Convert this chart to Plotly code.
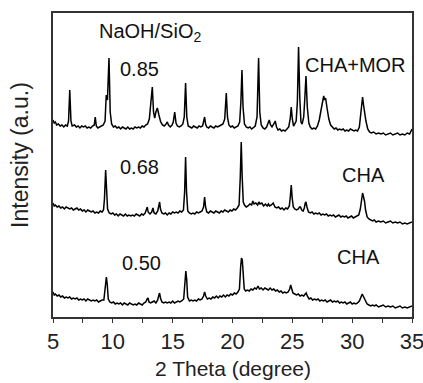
import plotly.graph_objects as go

# ---- data: (2theta [deg], intensity [a.u.]) ----
pattern_085 = [
    (5.0, 197), (5.1, 194), (5.2, 195), (5.3, 192), (5.45, 193), (5.6, 191), (5.75, 192), (5.9, 190), (6.05, 192),
    (6.2, 191), (6.3, 196), (6.4, 227), (6.5, 196), (6.6, 191), (6.8, 192), (6.95, 190), (7.1, 191), (7.25, 189),
    (7.4, 191), (7.55, 190), (7.7, 191), (7.85, 189), (8.0, 190), (8.15, 189), (8.3, 191), (8.45, 192), (8.53, 200),
    (8.62, 191), (8.75, 189), (8.9, 190), (9.05, 191), (9.2, 192), (9.35, 196), (9.45, 222), (9.55, 217), (9.68, 259),
    (9.78, 205), (9.9, 193), (10.05, 190), (10.2, 191), (10.35, 189), (10.5, 190), (10.65, 188), (10.8, 190),
    (10.95, 189), (11.1, 188), (11.25, 190), (11.4, 188), (11.55, 189), (11.7, 188), (11.85, 190), (12.0, 189),
    (12.15, 190), (12.3, 189), (12.45, 191), (12.6, 190), (12.75, 192), (12.9, 193), (13.05, 198), (13.15, 210),
    (13.3, 230), (13.4, 205), (13.5, 199), (13.6, 205), (13.72, 209), (13.85, 202), (14.0, 195), (14.15, 192),
    (14.3, 191), (14.45, 193), (14.55, 195), (14.65, 192), (14.8, 190), (14.95, 192), (15.05, 195), (15.17, 205),
    (15.28, 194), (15.4, 191), (15.55, 190), (15.7, 191), (15.85, 193), (15.97, 200), (16.08, 234), (16.18, 200),
    (16.3, 191), (16.45, 190), (16.6, 189), (16.75, 191), (16.9, 190), (17.05, 189), (17.2, 191), (17.35, 190),
    (17.5, 191), (17.6, 196), (17.67, 200), (17.75, 193), (17.85, 190), (18.0, 189), (18.15, 191), (18.3, 190),
    (18.45, 189), (18.6, 191), (18.75, 190), (18.9, 191), (19.05, 192), (19.2, 193), (19.35, 198), (19.48, 224),
    (19.58, 200), (19.7, 192), (19.85, 190), (20.0, 191), (20.15, 189), (20.3, 190), (20.45, 191), (20.6, 195),
    (20.7, 215), (20.79, 247), (20.88, 210), (21.0, 193), (21.15, 190), (21.3, 189), (21.45, 190), (21.6, 188),
    (21.75, 190), (21.9, 191), (22.05, 200), (22.18, 259), (22.28, 205), (22.4, 192), (22.55, 189), (22.7, 188),
    (22.85, 190), (22.95, 194), (23.07, 197), (23.18, 192), (23.3, 190), (23.45, 193), (23.57, 196), (23.68, 190),
    (23.8, 187), (23.95, 188), (24.1, 186), (24.25, 187), (24.4, 186), (24.55, 188), (24.7, 190), (24.82, 198),
    (24.91, 210), (25.0, 198), (25.1, 191), (25.2, 193), (25.32, 196), (25.42, 215), (25.52, 270), (25.62, 220),
    (25.72, 195), (25.82, 193), (25.95, 200), (26.05, 220), (26.14, 241), (26.25, 210), (26.38, 194), (26.5, 190),
    (26.65, 188), (26.8, 189), (26.95, 188), (27.1, 191), (27.25, 197), (27.4, 207), (27.55, 218), (27.62, 221),
    (27.7, 217), (27.78, 219), (27.9, 209), (28.05, 198), (28.2, 192), (28.35, 190), (28.5, 188), (28.65, 189),
    (28.8, 187), (28.95, 188), (29.1, 187), (29.25, 188), (29.4, 186), (29.55, 187), (29.7, 186), (29.85, 188),
    (30.0, 187), (30.15, 186), (30.3, 187), (30.45, 186), (30.6, 190), (30.7, 200), (30.8, 215), (30.87, 220),
    (30.95, 212), (31.05, 203), (31.15, 196), (31.3, 188), (31.45, 185), (31.6, 184), (31.8, 185), (32.0, 183),
    (32.2, 184), (32.4, 183), (32.6, 184), (32.8, 182), (33.0, 183), (33.2, 184), (33.4, 182), (33.6, 183),
    (33.8, 184), (34.0, 182), (34.2, 183), (34.4, 182), (34.6, 184), (34.8, 183), (34.95, 186), (35.0, 188),
]

pattern_068 = [
    (5.0, 114), (5.1, 111), (5.2, 112), (5.35, 110), (5.5, 111), (5.65, 109), (5.8, 110), (5.95, 108), (6.1, 110),
    (6.25, 109), (6.4, 108), (6.55, 109), (6.7, 107), (6.85, 108), (7.0, 109), (7.15, 107), (7.3, 108), (7.45, 106),
    (7.6, 107), (7.75, 105), (7.9, 107), (8.05, 106), (8.2, 105), (8.35, 106), (8.5, 104), (8.65, 105), (8.8, 104),
    (8.95, 106), (9.1, 105), (9.22, 107), (9.3, 118), (9.4, 147), (9.48, 125), (9.56, 108), (9.7, 104), (9.85, 103),
    (10.0, 104), (10.15, 102), (10.3, 103), (10.45, 101), (10.6, 103), (10.75, 102), (10.9, 101), (11.05, 103),
    (11.2, 101), (11.35, 102), (11.5, 101), (11.65, 102), (11.8, 101), (11.95, 103), (12.1, 102), (12.25, 101),
    (12.4, 103), (12.55, 102), (12.7, 104), (12.82, 108), (12.88, 110), (12.95, 105), (13.1, 103), (13.25, 105),
    (13.35, 109), (13.45, 104), (13.6, 103), (13.75, 106), (13.85, 113), (13.91, 115), (13.98, 108), (14.1, 104),
    (14.25, 103), (14.4, 104), (14.55, 102), (14.7, 104), (14.85, 103), (15.0, 105), (15.15, 104), (15.3, 105),
    (15.45, 104), (15.6, 106), (15.75, 105), (15.9, 107), (16.0, 125), (16.08, 160), (16.16, 125), (16.26, 106),
    (16.4, 104), (16.55, 103), (16.7, 104), (16.85, 103), (17.0, 105), (17.15, 104), (17.3, 105), (17.45, 106),
    (17.58, 110), (17.67, 120), (17.75, 110), (17.85, 105), (18.0, 104), (18.15, 106), (18.3, 105), (18.45, 104),
    (18.6, 106), (18.75, 105), (18.9, 104), (19.05, 106), (19.2, 105), (19.35, 107), (19.5, 106), (19.65, 105),
    (19.8, 107), (19.95, 106), (20.1, 108), (20.25, 107), (20.4, 109), (20.55, 112), (20.65, 140), (20.73, 175),
    (20.81, 140), (20.9, 115), (21.0, 112), (21.15, 110), (21.3, 111), (21.45, 113), (21.6, 112), (21.7, 116),
    (21.8, 113), (21.95, 114), (22.1, 112), (22.2, 115), (22.3, 113), (22.45, 114), (22.6, 111), (22.75, 113),
    (22.9, 111), (23.0, 113), (23.1, 111), (23.25, 112), (23.4, 114), (23.55, 110), (23.7, 109), (23.85, 110),
    (24.0, 108), (24.15, 109), (24.3, 107), (24.45, 109), (24.6, 108), (24.75, 111), (24.83, 120), (24.91, 132),
    (24.98, 120), (25.08, 110), (25.2, 108), (25.35, 107), (25.5, 108), (25.6, 110), (25.68, 110), (25.78, 107),
    (25.9, 106), (26.0, 109), (26.08, 114), (26.14, 115), (26.22, 110), (26.35, 105), (26.5, 104), (26.65, 105),
    (26.8, 103), (26.95, 104), (27.1, 103), (27.25, 104), (27.4, 102), (27.55, 103), (27.7, 102), (27.85, 103),
    (28.0, 101), (28.15, 102), (28.3, 101), (28.45, 102), (28.6, 100), (28.75, 101), (28.9, 102), (29.05, 100),
    (29.2, 101), (29.35, 100), (29.5, 101), (29.65, 99), (29.8, 100), (29.95, 101), (30.1, 99), (30.25, 100),
    (30.4, 101), (30.55, 102), (30.68, 108), (30.78, 118), (30.87, 124), (30.95, 120), (31.03, 116), (31.12, 107),
    (31.25, 100), (31.4, 98), (31.55, 97), (31.7, 96), (31.85, 97), (32.0, 95), (32.2, 96), (32.4, 95), (32.6, 96),
    (32.8, 94), (33.0, 95), (33.2, 96), (33.4, 94), (33.6, 95), (33.8, 94), (34.0, 95), (34.2, 93), (34.4, 94),
    (34.6, 93), (34.8, 94), (35.0, 95),
]

pattern_050 = [
    (5.0, 25), (5.1, 22), (5.2, 23), (5.35, 21), (5.5, 22), (5.65, 20), (5.8, 21), (5.95, 19), (6.1, 20), (6.25, 19),
    (6.4, 20), (6.55, 18), (6.7, 19), (6.85, 18), (7.0, 19), (7.15, 17), (7.3, 18), (7.45, 17), (7.6, 18), (7.75, 16),
    (7.9, 18), (8.05, 17), (8.2, 16), (8.35, 17), (8.5, 16), (8.65, 17), (8.8, 15), (8.95, 16), (9.1, 17), (9.25, 17),
    (9.33, 25), (9.4, 38), (9.46, 40), (9.53, 33), (9.62, 18), (9.75, 15), (9.9, 14), (10.05, 15), (10.2, 13),
    (10.35, 14), (10.5, 13), (10.65, 14), (10.8, 12), (10.95, 14), (11.1, 13), (11.25, 12), (11.4, 14), (11.55, 13),
    (11.7, 12), (11.85, 13), (12.0, 12), (12.15, 14), (12.3, 13), (12.45, 12), (12.6, 14), (12.75, 15), (12.87, 18),
    (12.94, 19), (13.02, 15), (13.15, 14), (13.3, 15), (13.45, 16), (13.6, 14), (13.75, 17), (13.85, 22), (13.91, 24),
    (13.98, 19), (14.1, 15), (14.25, 14), (14.4, 15), (14.55, 14), (14.7, 15), (14.85, 14), (15.0, 16), (15.15, 14),
    (15.3, 15), (15.45, 16), (15.6, 15), (15.75, 16), (15.92, 18), (16.03, 35), (16.1, 46), (16.17, 38), (16.25, 20),
    (16.4, 16), (16.55, 17), (16.7, 16), (16.85, 17), (17.0, 16), (17.15, 18), (17.3, 17), (17.45, 18), (17.58, 21),
    (17.67, 25), (17.76, 21), (17.9, 18), (18.05, 19), (18.2, 18), (18.35, 20), (18.5, 19), (18.65, 21), (18.8, 19),
    (18.95, 21), (19.1, 20), (19.25, 22), (19.4, 20), (19.55, 22), (19.7, 21), (19.85, 23), (20.0, 22), (20.15, 24),
    (20.3, 23), (20.45, 25), (20.58, 28), (20.68, 50), (20.75, 59), (20.82, 57), (20.9, 40), (20.98, 28), (21.1, 26),
    (21.25, 27), (21.4, 26), (21.55, 28), (21.7, 27), (21.85, 29), (22.0, 28), (22.13, 31), (22.25, 28), (22.4, 29),
    (22.55, 27), (22.7, 29), (22.85, 28), (23.0, 27), (23.15, 29), (23.3, 27), (23.45, 28), (23.6, 26), (23.75, 27),
    (23.9, 25), (24.05, 26), (24.2, 24), (24.35, 25), (24.5, 24), (24.65, 25), (24.78, 28), (24.86, 32), (24.94, 29),
    (25.05, 24), (25.2, 23), (25.35, 22), (25.5, 23), (25.65, 21), (25.8, 22), (25.95, 21), (26.08, 23), (26.16, 24),
    (26.25, 21), (26.4, 18), (26.55, 19), (26.7, 17), (26.85, 18), (27.0, 17), (27.15, 18), (27.3, 16), (27.45, 17),
    (27.6, 16), (27.75, 17), (27.9, 15), (28.05, 16), (28.2, 17), (28.35, 15), (28.5, 16), (28.65, 15), (28.8, 16),
    (28.95, 14), (29.1, 15), (29.25, 14), (29.4, 15), (29.55, 13), (29.7, 14), (29.85, 15), (30.0, 13), (30.15, 14),
    (30.3, 13), (30.45, 14), (30.6, 16), (30.72, 20), (30.84, 23), (30.92, 21), (31.0, 19), (31.1, 16), (31.25, 13),
    (31.4, 12), (31.55, 11), (31.7, 12), (31.85, 11), (32.0, 12), (32.2, 10), (32.4, 11), (32.6, 12), (32.8, 10),
    (33.0, 11), (33.2, 10), (33.4, 11), (33.6, 9), (33.8, 10), (34.0, 11), (34.2, 9), (34.4, 10), (34.6, 9),
    (34.8, 10), (35.0, 11),
]

ratio_labels = ["0.85", "0.68", "0.50"]
phase_labels = ["CHA+MOR", "CHA", "CHA"]
x_ticks = [5, 10, 15, 20, 25, 30, 35]

fig = go.Figure()
for pat in [pattern_085, pattern_068, pattern_050]:
    th = [p[0] for p in pat]
    it = [p[1] for p in pat]
    fig.add_trace(go.Scatter(x=th, y=it, mode="lines",
                             line=dict(color="black", width=1.5), showlegend=False,
                             hoverinfo="skip"))

font_family = "Liberation Sans, Arial, sans-serif"
ann = []
ann.append(dict(x=13.1, y=285, text="NaOH/SiO<sub>2</sub>", showarrow=False,
                xref="x", yref="y", font=dict(size=20, color="#111", family=font_family)))
ratio_pos = [(12.19, 248), (12.21, 150.5), (12.40, 54.5)]
phase_pos = [(30.28, 252.5), (30.93, 142), (30.49, 60.5)]
for t, (x, y) in zip(ratio_labels, ratio_pos):
    ann.append(dict(x=x, y=y, text=t, showarrow=False, xref="x", yref="y",
                    font=dict(size=20, color="#111", family=font_family)))
for t, (x, y) in zip(phase_labels, phase_pos):
    ann.append(dict(x=x, y=y, text=t, showarrow=False, xref="x", yref="y",
                    font=dict(size=20, color="#111", family=font_family)))
# axis titles
ann.append(dict(x=-0.092, y=0.533, xref="paper", yref="paper", text="Intensity (a.u.)",
                textangle=-90, showarrow=False, xanchor="center", yanchor="middle",
                font=dict(size=23, color="#222", family=font_family)))
ann.append(dict(x=0.5, y=-0.171, xref="paper", yref="paper", text="2 Theta (degree)",
                showarrow=False, xanchor="center", yanchor="middle",
                font=dict(size=21, color="#222", family=font_family)))

fig.update_layout(
    width=423, height=383,
    margin=dict(l=53, r=11, t=13, b=66, autoexpand=False),
    paper_bgcolor="white", plot_bgcolor="white",
    annotations=ann,
    xaxis=dict(range=[5, 35], tickvals=x_ticks, ticktext=[str(v) for v in x_ticks],
               ticks="outside", ticklen=4, tickwidth=1.2, tickcolor="#333",
               showline=True, linecolor="#333", linewidth=1.5, mirror=True,
               showgrid=False, zeroline=False, automargin=False,
               ticklabeloverflow="allow",
               tickfont=dict(size=22, color="#222", family=font_family),
               minor=dict(dtick=2.5, tick0=5, ticks="outside", ticklen=4, tickwidth=1.2, tickcolor="#333",
                          showgrid=False)),
    yaxis=dict(range=[0, 304], showticklabels=False, ticks="",
               showline=True, linecolor="#333", linewidth=1.5, mirror=True,
               showgrid=False, zeroline=False, automargin=False),
)

fig.write_html("out.html")
